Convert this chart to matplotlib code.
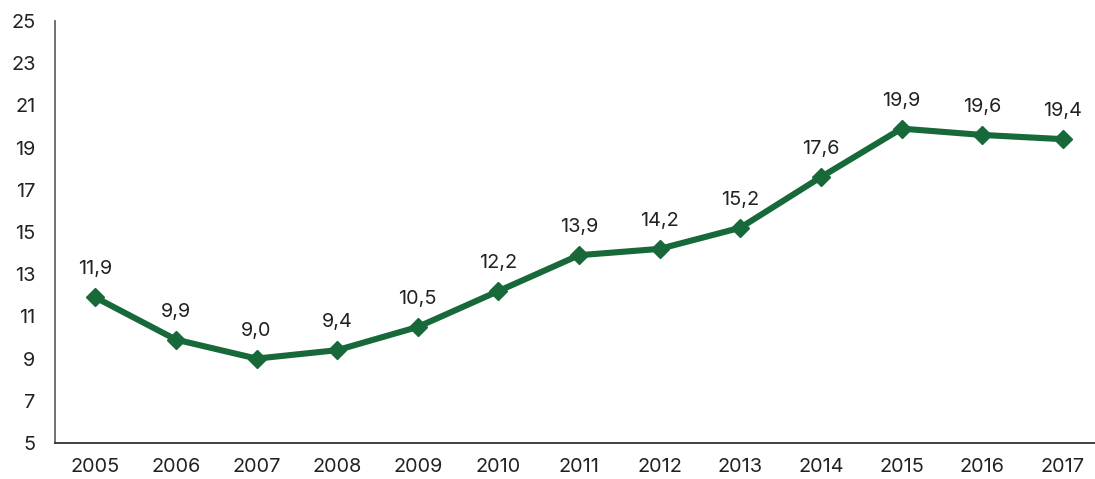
import matplotlib
matplotlib.use("Agg")
import matplotlib.pyplot as plt

years = ["2005", "2006", "2007", "2008", "2009", "2010", "2011",
         "2012", "2013", "2014", "2015", "2016", "2017"]
values = [11.9, 9.9, 9.0, 9.4, 10.5, 12.2, 13.9, 14.2, 15.2, 17.6, 19.9, 19.6, 19.4]
yticks = [5, 7, 9, 11, 13, 15, 17, 19, 21, 23, 25]

plt.rcParams['font.family'] = ['Inter', 'DejaVu Sans']

fig = plt.figure(figsize=(10.95, 4.79), dpi=100)
W, H = 1095, 479
ax = fig.add_axes([55 / W, (H - 443) / H, (W - 55) / W, (443 - 21) / H])

green = "#17693a"
x = list(range(len(years)))
ax.plot(x, values, color=green, lw=4.4, marker="D", markersize=9.5,
        markerfacecolor=green, markeredgecolor=green, solid_joinstyle="round")

for i, v in enumerate(values):
    ax.annotate(f"{v:.1f}".replace(".", ","), (i, v), textcoords="offset points",
                xytext=(0, 16.5), ha="center", va="baseline", fontsize=14.3, color="#222222")

ax.set_xlim(-0.5, 12.4)
ax.set_ylim(5, 25)
ax.set_xticks(x)
ax.set_xticklabels(years)
ax.set_yticks(yticks)
ax.tick_params(axis="both", length=0, labelsize=14.3, colors="#222222")
ax.tick_params(axis="x", pad=11)
ax.tick_params(axis="y", pad=14)

for s in ["top", "right"]:
    ax.spines[s].set_visible(False)
ax.spines["left"].set_color("#666666")
ax.spines["bottom"].set_color("#333333")
ax.spines["left"].set_linewidth(1.3)
ax.spines["bottom"].set_linewidth(1.3)

fig.savefig("out.png", dpi=100)
